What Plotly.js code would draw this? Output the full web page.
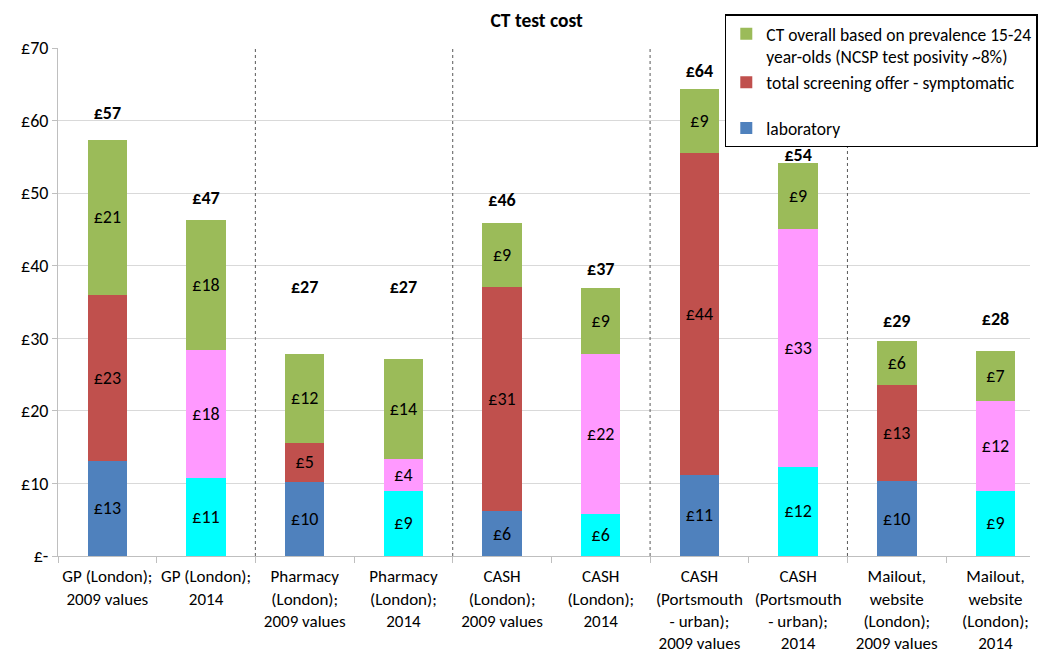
<!DOCTYPE html>
<html><head><meta charset="utf-8">
<script src="https://cdn.plot.ly/plotly-3.0.1.min.js"></script>
<style>html,body{margin:0;padding:0;background:#fff}#chart{width:1038px;height:655px}</style>
</head><body><div id="chart"></div>
<script>
const categories = [
  "GP (London);<br>2009 values", "GP (London);<br>2014",
  "Pharmacy<br>(London);<br>2009 values", "Pharmacy<br>(London);<br>2014",
  "CASH<br>(London);<br>2009 values", "CASH<br>(London);<br>2014",
  "CASH<br>(Portsmouth<br>- urban);<br>2009 values", "CASH<br>(Portsmouth<br>- urban);<br>2014",
  "Mailout,<br>website<br>(London);<br>2009 values", "Mailout,<br>website<br>(London);<br>2014"
];
const laboratory = [13.1, 10.7, 10.2, 9.0, 6.2, 5.8, 11.2, 12.3, 10.3, 9.0];
const screening  = [22.9, 17.7, 5.4, 4.3, 30.8, 22.0, 44.4, 32.8, 13.3, 12.4];
const ctOverall  = [21.3, 17.9, 12.3, 13.9, 8.9, 9.1, 8.8, 9.1, 6.0, 6.8];
const totals     = [57, 47, 27, 27, 46, 37, 64, 54, 29, 28];
const totalLabelY = [60.9, 49.1, 36.9, 36.9, 48.9, 39.4, 66.6, 55.1, 32.2, 32.5];
const yTickVals = [0, 10, 20, 30, 40, 50, 60, 70];
const yTickText = ["£-", "£10", "£20", "£30", "£40", "£50", "£60", "£70"];
const groupBoundaries = [1.5, 3.5, 5.5, 7.5];

const is2014 = categories.map((c, i) => i % 2 === 1);
const labColors = is2014.map(b => b ? "#00FFFF" : "#4F81BD");
const scrColors = is2014.map(b => b ? "#FF99FF" : "#C0504D");

const FONT = "Carlito, Lato, 'Liberation Sans', sans-serif";
const segText = {family: FONT, size: 18, color: "#000"};

const traces = [
  {type: "bar", name: "laboratory", legendgroup: "a", legendrank: 3, x: categories, y: laboratory,
   marker: {color: labColors}, texttemplate: "£%{y:.0f}", textposition: "inside",
   insidetextanchor: "middle", textfont: segText, constraintext: "none", hoverinfo: "skip"},
  {type: "bar", name: "total screening offer - symptomatic", legendgroup: "b", legendrank: 2,
   x: categories, y: screening,
   marker: {color: scrColors}, texttemplate: "£%{y:.0f}", textposition: "inside",
   insidetextanchor: "middle", textfont: segText, constraintext: "none", hoverinfo: "skip"},
  {type: "bar", name: "CT overall based on prevalence 15-24<br>year-olds (NCSP test posivity ~8%)",
   legendgroup: "b", legendrank: 1, x: categories, y: ctOverall,
   marker: {color: "#9BBB59"}, texttemplate: "£%{y:.0f}", textposition: "inside",
   insidetextanchor: "middle", textfont: segText, constraintext: "none", hoverinfo: "skip"},
  {type: "scatter", mode: "text", x: categories, y: totalLabelY,
   text: totals.map(t => "<b>£" + t + "</b>"), textposition: "middle center",
   textfont: {family: FONT, size: 18, color: "#000"}, showlegend: false, hoverinfo: "skip"}
];

const shapes = groupBoundaries.map(b => ({
  type: "line", xref: "x", yref: "y", x0: b, x1: b, y0: 0, y1: 70,
  line: {color: "#595959", width: 1, dash: "dot"}
}));

const layout = {
  width: 1038, height: 655,
  margin: {l: 58, r: 0, t: 48, b: 99},
  paper_bgcolor: "#fff", plot_bgcolor: "#fff",
  barmode: "stack", bargap: 0.6,
  font: {family: FONT, size: 18, color: "#000"},
  title: {text: "<b>CT test cost</b>", font: {family: FONT, size: 19.5, color: "#000"},
          x: 0.517, xanchor: "center", y: 0.969, yanchor: "middle"},
  xaxis: {type: "category", range: [-0.5, 9.35], showgrid: false,
          showline: true, linecolor: "#bfbfbf", linewidth: 1,
          ticks: "outside", tickson: "boundaries", ticklen: 6, tickcolor: "#bfbfbf",
          ticklabelstandoff: 5,
          tickfont: {family: FONT, size: 17, color: "#000"}, tickangle: 0, automargin: false},
  yaxis: {range: [0, 70], tickvals: yTickVals, ticktext: yTickText,
          showgrid: true, gridcolor: "#d9d9d9", gridwidth: 1,
          showline: true, linecolor: "#bfbfbf", linewidth: 1,
          ticks: "outside", ticklen: 5, tickcolor: "#bfbfbf", zeroline: false,
          tickfont: {family: FONT, size: 18, color: "#000"}, automargin: false},
  legend: {x: 0.686, y: 1.066, xanchor: "left", yanchor: "top",
           traceorder: "grouped", valign: "top",
           bgcolor: "#fff", bordercolor: "#000", borderwidth: 1.5,
           font: {family: FONT, size: 17.5, color: "#000"}, tracegroupgap: 20,
           itemwidth: 30},
  shapes: shapes,
  showlegend: true
};

Plotly.newPlot("chart", traces, layout, {displayModeBar: false, staticPlot: true});
</script></body></html>
